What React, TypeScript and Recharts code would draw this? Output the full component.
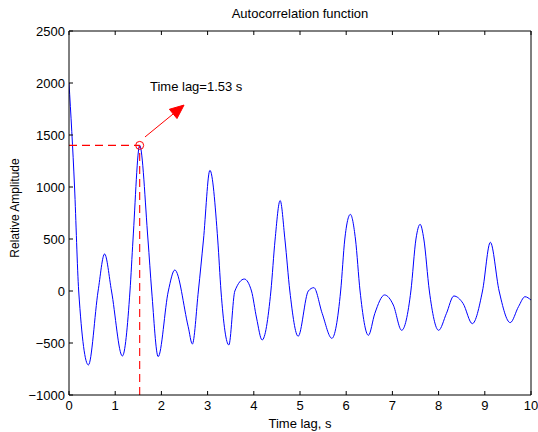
import { LineChart, Line, XAxis, YAxis, ReferenceLine, ReferenceDot } from 'recharts';

// lag (s) and autocorrelation amplitude
const lagTimes = [
  0, 0.12, 0.21, 0.42, 0.63, 0.77, 0.92, 1.155, 1.32, 1.385, 1.53, 1.71, 1.79, 1.93,
  2.15, 2.29, 2.58, 2.67, 2.8, 2.91, 3.05, 3.22, 3.29, 3.46, 3.59, 3.795, 3.95, 4.06,
  4.18, 4.37, 4.46, 4.57, 4.675, 4.78, 4.96, 5.18, 5.3, 5.48, 5.69, 5.88, 5.97, 6.09,
  6.2, 6.3, 6.48, 6.62, 6.83, 7.02, 7.2, 7.4, 7.51, 7.6, 7.68, 7.8, 8.0, 8.17, 8.33,
  8.53, 8.73, 8.95, 9.12, 9.31, 9.55, 9.73, 9.87, 10.0,
];
const amplitudes = [
  2000, 1000, 0, -711, 0, 356, 0, -625, 0, 490, 1400, 490, 0, -631,
  0, 202, -343, -510, 0, 490, 1160, 490, 0, -519, 0, 115, 0, -260,
  -471, 0, 490, 870, 490, 0, -435, 0, 32, -215, -455, 0, 500, 737,
  500, 0, -426, -215, -38, -135, -378, 0, 500, 641, 500, 0, -378, -215, -48,
  -120, -314, 0, 468, 0, -304, -150, -55, -87,
];
const xTicks = [0, 1, 2, 3, 4, 5, 6, 7, 8, 9, 10];
const yTicks = [-1000, -500, 0, 500, 1000, 1500, 2000, 2500];
const peakLag = 1.53;
const peakValue = 1400;
const arrowFrom = { x: 1.645, y: 1481 };
const arrowTo = { x: 2.49, y: 1788 };
const notePos = { x: 1.753, y: 1923 };

const data = lagTimes.map((t, i) => ({ t, v: amplitudes[i] }));

const FONT = '"Liberation Sans", Arial, Helvetica, sans-serif';
const RED = '#ff0000';
const tickStyle = { fontSize: 13, fill: '#000', fontFamily: FONT };
const fmtY = (v: number) => (v < 0 ? '\u2212' + Math.abs(v) : String(v));
const blank = () => '';

const arrowShape = (props: any) => {
  const { x1, y1, x2, y2 } = props;
  const ang = Math.atan2(y2 - y1, x2 - x1);
  const len = 14;
  const half = 6;
  const bx = x2 - len * Math.cos(ang);
  const by = y2 - len * Math.sin(ang);
  const px = -Math.sin(ang) * half;
  const py = Math.cos(ang) * half;
  return (
    <g>
      <line x1={x1} y1={y1} x2={bx} y2={by} style={{ stroke: RED, strokeWidth: 1 }} />
      <polygon
        points={`${x2},${y2} ${bx + px},${by + py} ${bx - px},${by - py}`}
        style={{ fill: RED, stroke: RED }}
      />
    </g>
  );
};

// dashed guide lines to the axes
const dashShape = (props: any) => (
  <path
    d={`M${props.x1},${props.y1}L${props.x2},${props.y2}`}
    style={{ stroke: RED, strokeWidth: 1.1, strokeDasharray: '8 5', fill: 'none' }}
  />
);

const noteShape = (props: any) => (
  <text x={props.cx} y={props.cy} fontSize={13} fontFamily={FONT} fill="#000">
    Time lag=1.53 s
  </text>
);

const circleShape = (props: any) => (
  <circle cx={props.cx} cy={props.cy} r={4} style={{ fill: 'none', stroke: RED, strokeWidth: 1 }} />
);

const yLabel = (props: any) => {
  const { y, height } = props.viewBox;
  const cx = 15;
  const cy = y + height / 2 - 5;
  return (
    <text
      x={cx}
      y={cy}
      transform={`rotate(-90 ${cx} ${cy})`}
      textAnchor="middle"
      dominantBaseline="central"
      fontSize={12}
      fontFamily={FONT}
      fill="#000"
    >
      Relative Amplitude
    </text>
  );
};

const titleLabel = (props: any) => {
  const { x, width } = props.viewBox;
  return (
    <text x={x + width / 2} y={18} textAnchor="middle" fontSize={13} fontFamily={FONT} fill="#000">
      Autocorrelation function
    </text>
  );
};

const xLabel = (props: any) => {
  const { x, width } = props.viewBox;
  return (
    <text x={x + width / 2} y={428} textAnchor="middle" fontSize={13} fontFamily={FONT} fill="#000">
      Time lag, s
    </text>
  );
};

export default function App() {
  return (
    <div style={{ position: 'fixed', left: 0, top: 0, width: 538, height: 432, background: '#fff' }}>
      <LineChart
        width={538}
        height={432}
        data={data}
        margin={{ top: 30, right: 6, bottom: 0, left: 0 }}
        style={{ fontFamily: FONT }}
      >
        <XAxis
          dataKey="t"
          type="number"
          domain={[0, 10]}
          ticks={xTicks}
          interval={0}
          height={37}
          tickSize={-4}
          tickMargin={10}
          tick={tickStyle}
          stroke="#000"
          axisLine={{ stroke: '#000' }}
          tickLine={{ stroke: '#000' }}
          allowDataOverflow
          label={{ content: xLabel }}
        />
        <XAxis
          xAxisId="top"
          orientation="top"
          dataKey="t"
          type="number"
          domain={[0, 10]}
          ticks={xTicks}
          interval={0}
          height={1}
          tickSize={-4}
          tickFormatter={blank}
          stroke="#000"
          axisLine={{ stroke: '#000' }}
          tickLine={{ stroke: '#000' }}
          label={{ content: titleLabel }}
        />
        <YAxis
          type="number"
          domain={[-1000, 2500]}
          ticks={yTicks}
          interval={0}
          width={69}
          tickSize={-4}
          tickMargin={8}
          tick={tickStyle}
          tickFormatter={fmtY}
          stroke="#000"
          axisLine={{ stroke: '#000' }}
          tickLine={{ stroke: '#000' }}
          allowDataOverflow
          label={{ content: yLabel }}
        />
        <YAxis
          yAxisId="right"
          orientation="right"
          type="number"
          domain={[-1000, 2500]}
          ticks={yTicks}
          interval={0}
          width={1}
          tickSize={-4}
          tickFormatter={blank}
          stroke="#000"
          axisLine={{ stroke: '#000' }}
          tickLine={{ stroke: '#000' }}
        />
        <Line
          type="monotone"
          dataKey="v"
          stroke="#0000ff"
          strokeWidth={1}
          dot={false}
          activeDot={false}
          isAnimationActive={false}
        />
        <ReferenceLine
          segment={[{ x: 0, y: peakValue }, { x: peakLag, y: peakValue }]}
          stroke={RED}
          shape={dashShape}
        />
        <ReferenceLine
          segment={[{ x: peakLag, y: -1000 }, { x: peakLag, y: peakValue }]}
          stroke={RED}
          shape={dashShape}
        />
        <ReferenceDot x={peakLag} y={peakValue} r={4} shape={circleShape} />
        <ReferenceLine segment={[arrowFrom, arrowTo]} stroke={RED} shape={arrowShape} />
        <ReferenceDot x={notePos.x} y={notePos.y} r={0} shape={noteShape} />
      </LineChart>
    </div>
  );
}
